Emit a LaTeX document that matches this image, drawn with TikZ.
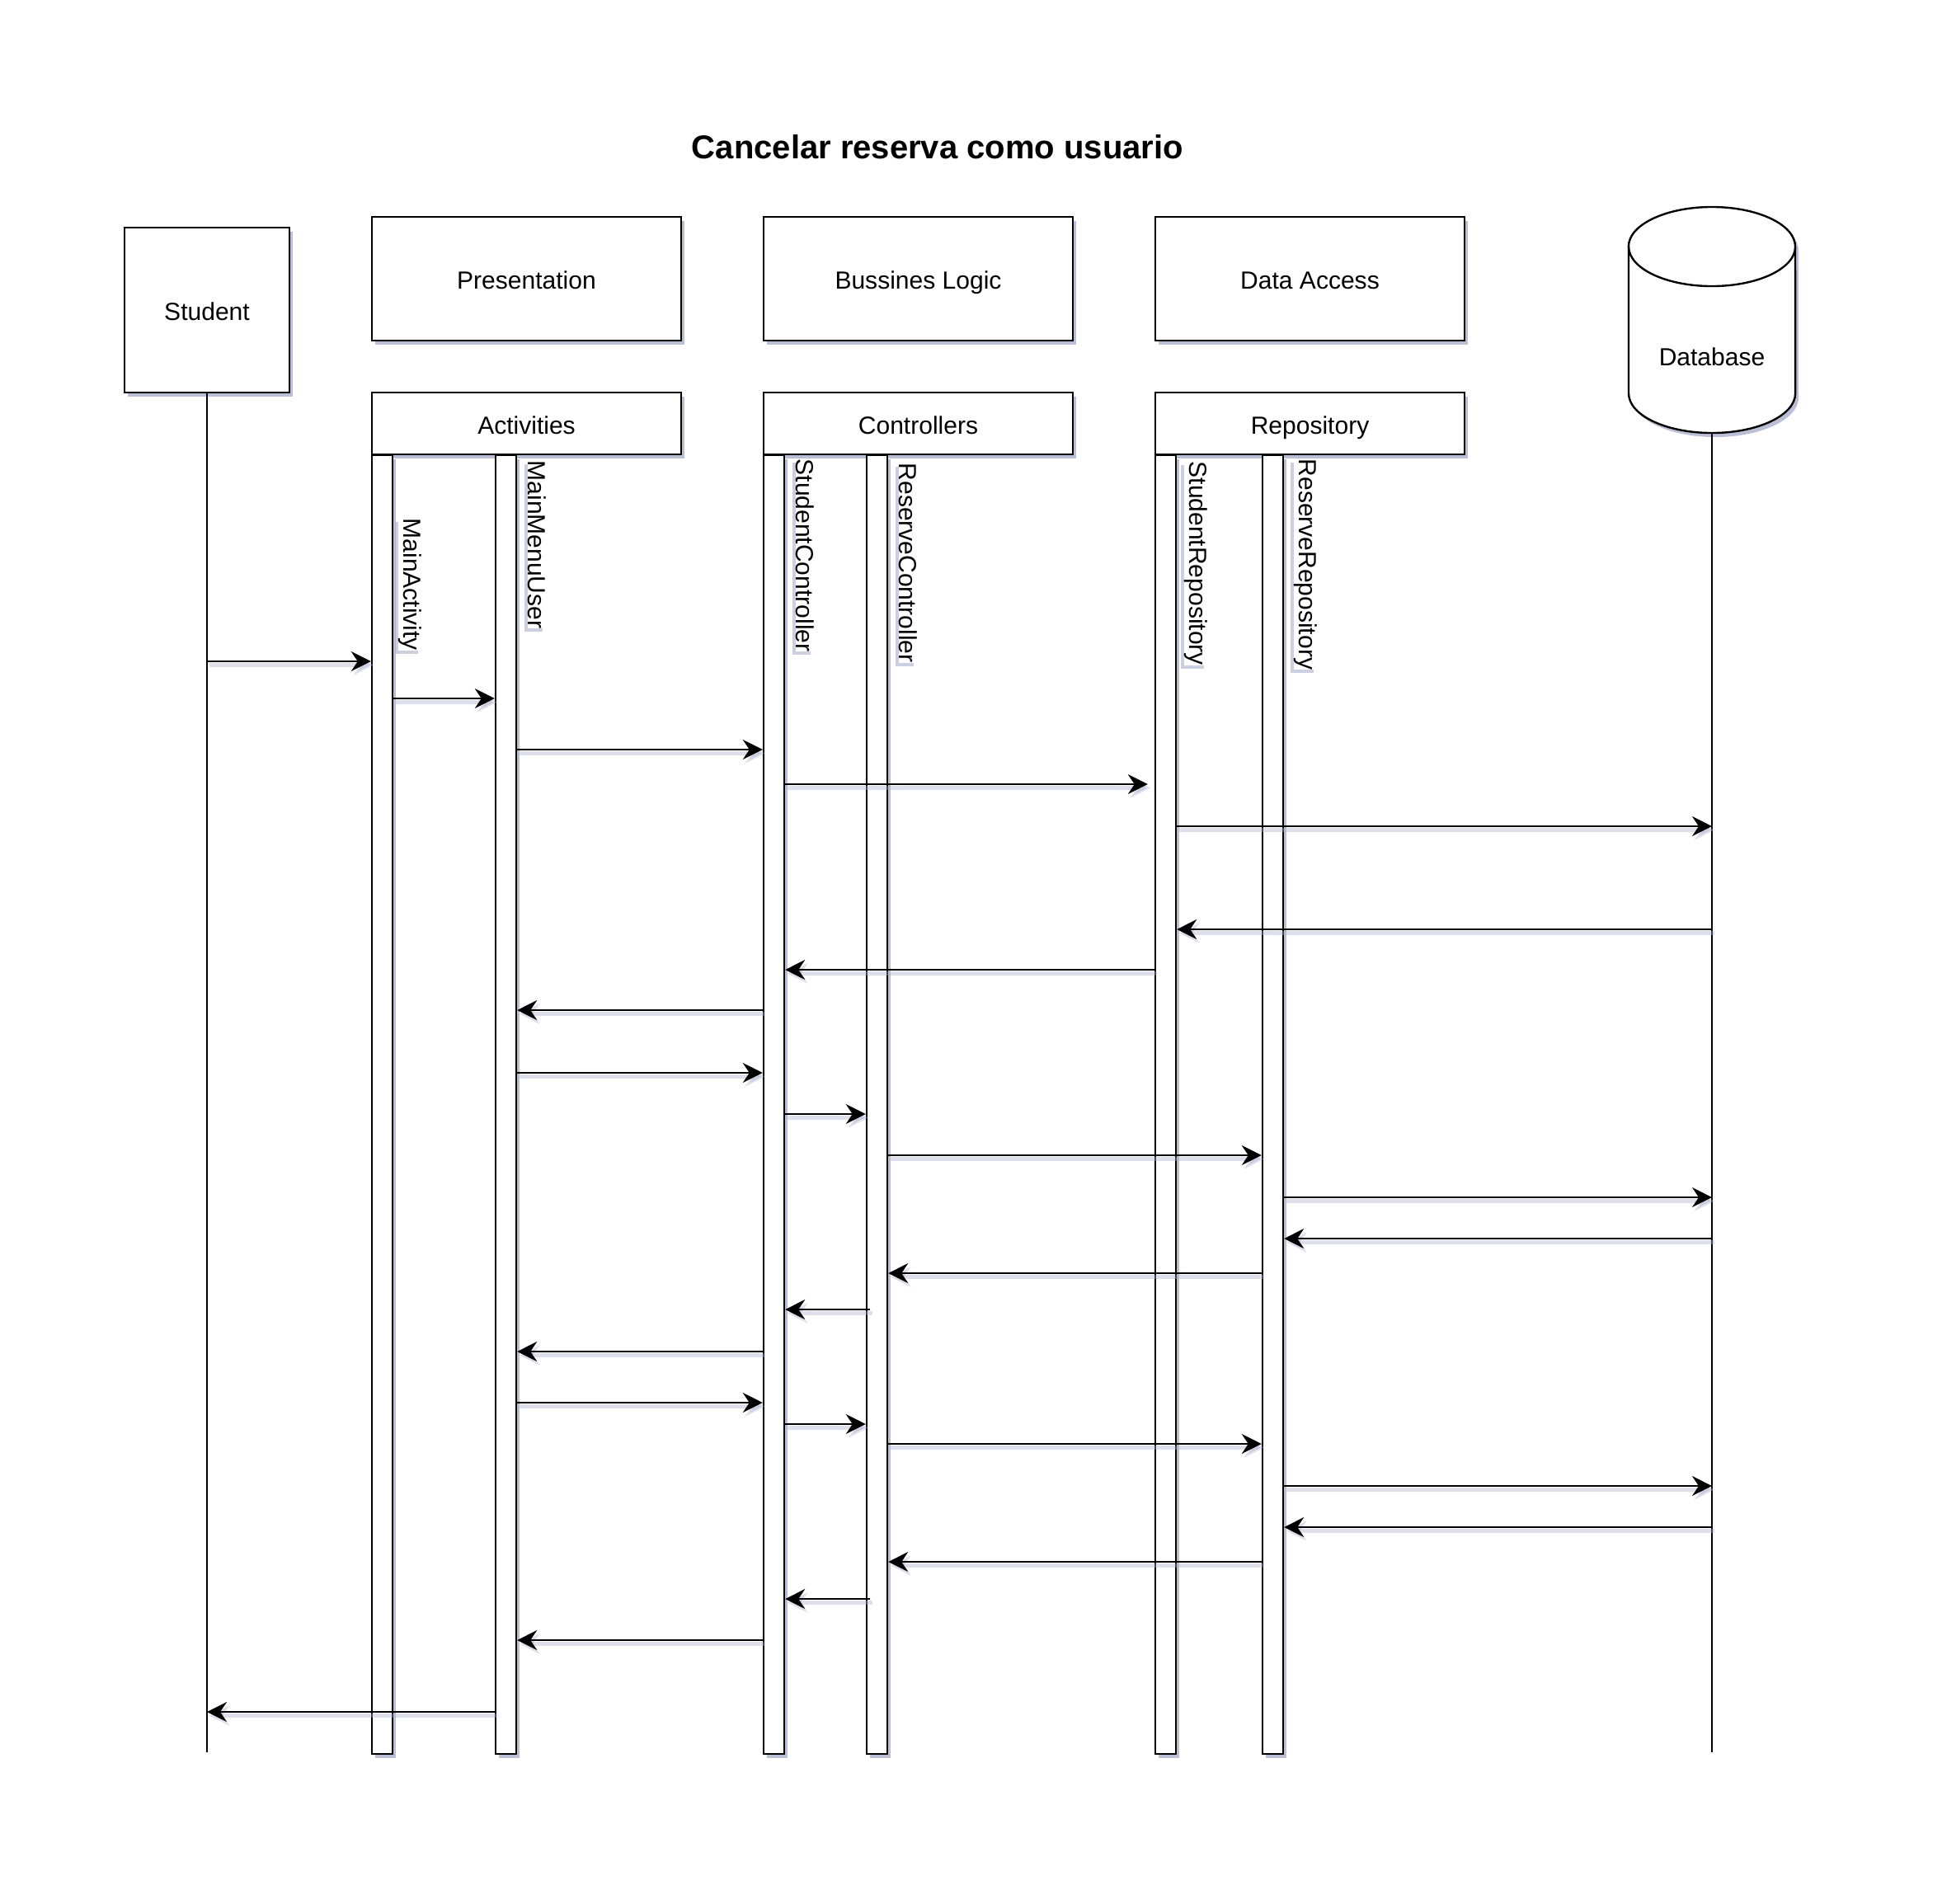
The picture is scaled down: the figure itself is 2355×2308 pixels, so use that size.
\documentclass[tikz,border=0pt]{standalone}
\usepackage{fontspec}
\setmainfont{Liberation Sans}
\usetikzlibrary{arrows.meta,shadows,calc}
\definecolor{shadowc}{RGB}{170,175,204}
\tikzset{
  box/.style={draw, fill=white, line width=0.68pt, inner sep=0pt,
    font=\fontsize{8.54pt}{10pt}\selectfont, text height=0.716em, text depth=0pt,
    drop shadow={shadow xshift=0.04cm, shadow yshift=-0.05cm, fill=shadowc, opacity=0.8}},
  bar/.style={box, minimum width=0.25cm, minimum height=15.74cm, anchor=north},
  lbl/.style={fill=white, inner sep=0pt, rotate=-90, anchor=west,
    font=\fontsize{8.54pt}{10pt}\selectfont,
    drop shadow={shadow xshift=-0.04cm, shadow yshift=-0.04cm, fill=shadowc, opacity=0.6}},
  msg/.style={-{Stealth[length=0.24cm,width=0.24cm,inset=0.08cm]}, line width=0.68pt,
    preaction={draw=shadowc, opacity=0.4, line width=1.2pt,
      transform canvas={xshift=0.03cm, yshift=-0.045cm}}},
  lifeline/.style={line width=0.68pt}
}
% one message at height #3, from #1 to #2
\newcommand{\callmsg}[3]{\draw[msg] (#1 |- 0,#3) -- (#2 |- 0,#3);}

\begin{document}
\begin{tikzpicture}[x=0.01cm, y=-0.01cm]
\useasboundingbox (0,0) rectangle (2355,2308);

\node[font=\fontsize{11.38pt}{13pt}\selectfont\bfseries, anchor=base] (title) at (1137,192) {Cancelar reserva como usuario};

% actor and layers
\node[box, minimum width=2cm, minimum height=2cm] (stu) at (251,376) {Student};
\node[box, minimum width=3.75cm, minimum height=1.5cm] (pres) at (638.5,338) {Presentation};
\node[box, minimum width=3.75cm, minimum height=1.5cm] (bl) at (1113.5,338) {Bussines Logic};
\node[box, minimum width=3.75cm, minimum height=1.5cm] (da) at (1588.5,338) {Data Access};
\node[box, minimum width=3.75cm, minimum height=0.75cm] (act) at (638.5,513.5) {Activities};
\node[box, minimum width=3.75cm, minimum height=0.75cm] (ctl) at (1113.5,513.5) {Controllers};
\node[box, minimum width=3.75cm, minimum height=0.75cm] (rep) at (1588.5,513.5) {Repository};

% database
\draw[line width=0.68pt, fill=white, drop shadow={shadow xshift=0.04cm, shadow yshift=-0.05cm, fill=shadowc, opacity=0.8}]
  (1975,299) -- (1975,477) arc[start angle=180, end angle=360, x radius=1.01cm, y radius=0.48cm]
  -- (2177,299) arc[start angle=0, end angle=180, x radius=1.01cm, y radius=0.48cm] -- cycle;
\draw[line width=0.68pt] (1975,299) arc[start angle=180, end angle=360, x radius=1.01cm, y radius=0.48cm];
\node[font=\fontsize{8.54pt}{10pt}\selectfont, text height=0.716em, text depth=0pt] (db) at (2076,431) {Database};
\coordinate (dbbot) at (2076,525);
\coordinate (dbend) at (2076,2125);
\coordinate (stuend) at (251,2125);

% lifelines
\draw[lifeline] (stu.south) -- (stuend);
\draw[lifeline] (dbbot) -- (dbend);

% activation bars
\node[bar] (bma) at (463.5,551) {};
\node[bar] (bmm) at (613.5,551) {};
\node[bar] (bsc) at (938.5,551) {};
\node[bar] (brc) at (1063.5,551) {};
\node[bar] (bsr) at (1413.5,551) {};
\node[bar] (brr) at (1543.5,551) {};

\node[lbl] (lma) at (497,628) {MainActivity};
\node[lbl] (lmm) at (651,558) {MainMenuUser};
\node[lbl] (lsc) at (976,556) {StudentController};
\node[lbl] (lrc) at (1101,561) {ReserveController};
\node[lbl] (lsr) at (1450,559) {StudentRepository};
\node[lbl] (lrr) at (1583,556) {ReserveRepository};

\coordinate (bsrin) at ([xshift=-0.08cm]bsr.west);
\coordinate (brcin) at ([xshift=0.05cm]brc.west);

% messages
\callmsg{stu.south}{bma.west}{802}
\callmsg{bma.east}{bmm.west}{847}
\callmsg{bmm.east}{bsc.west}{909}
\callmsg{bsc.east}{bsrin}{951}
\callmsg{bsr.east}{dbbot}{1002}
\callmsg{dbbot}{bsr.east}{1127}
\callmsg{bsr.west}{bsc.east}{1176}
\callmsg{bsc.west}{bmm.east}{1225}
\callmsg{bmm.east}{bsc.west}{1301}
\callmsg{bsc.east}{brc.west}{1351}
\callmsg{brc.east}{brr.west}{1401}
\callmsg{brr.east}{dbbot}{1452}
\callmsg{dbbot}{brr.east}{1502}
\callmsg{brr.west}{brc.east}{1544}
\callmsg{brcin}{bsc.east}{1588}
\callmsg{bsc.west}{bmm.east}{1639}
\callmsg{bmm.east}{bsc.west}{1701}
\callmsg{bsc.east}{brc.west}{1727}
\callmsg{brc.east}{brr.west}{1751}
\callmsg{brr.east}{dbbot}{1802}
\callmsg{dbbot}{brr.east}{1852}
\callmsg{brr.west}{brc.east}{1894}
\callmsg{brcin}{bsc.east}{1939}
\callmsg{bsc.west}{bmm.east}{1989}
\callmsg{bmm.west}{stu.south}{2076}
\end{tikzpicture}
\end{document}
